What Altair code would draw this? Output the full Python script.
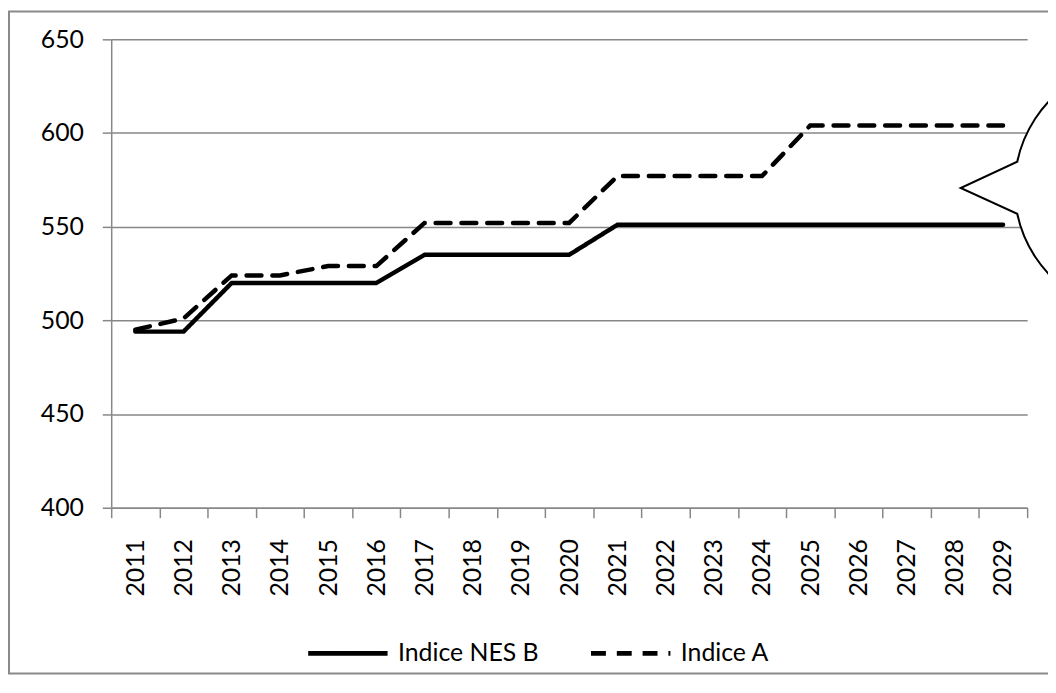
import altair as alt
import pandas as pd

# ---- data ----
years = [str(y) for y in range(2011, 2030)]
nes_b = [494, 494, 520, 520, 520, 520, 535, 535, 535, 535,
         551, 551, 551, 551, 551, 551, 551, 551, 551]
indice_a = [495, 501, 524, 524, 529, 529, 552, 552, 552, 552,
            577, 577, 577, 577, 604, 604, 604, 604, 604]
series_names = ["Indice NES B", "Indice A"]
y_ticks = [400, 450, 500, 550, 600, 650]
y_domain = [400, 650]

rows = []
for name, vals in zip(series_names, [nes_b, indice_a]):
    for yr, v in zip(years, vals):
        rows.append({"year": yr, "value": v, "series": name})
df = pd.DataFrame(rows)

FONT = "Lato"
GRID = "#878787"
BORDER = "#8a8a8a"

# speech-bubble callout shape (decoration), path relative to its centre
bubble_path = "M -124 -26 A 126.7 126.7 0 1 1 -124 26.5 L -181 0.5 Z"
one_row = alt.Data(values=[{"k": 1}])

# chart-area frame (left, top, bottom edges; right edge lies off-page)
frame_left = alt.Chart(one_row).mark_rule(stroke=BORDER, strokeWidth=2).encode(
    x=alt.value(-103), y=alt.value(-28), y2=alt.value(639))
frame_top = alt.Chart(one_row).mark_rule(stroke=BORDER, strokeWidth=2).encode(
    x=alt.value(-104), x2=alt.value(944), y=alt.value(-28))
frame_bottom = alt.Chart(one_row).mark_rule(stroke=BORDER, strokeWidth=2).encode(
    x=alt.value(-104), x2=alt.value(944), y=alt.value(639))

lines = alt.Chart(df).mark_line(
    color="black", strokeWidth=4.5, strokeCap="round"
).encode(
    x=alt.X("year:N", sort=years, title=None,
            scale=alt.Scale(type="band", paddingInner=0, paddingOuter=0),
            axis=alt.Axis(tickBand="extent", labelAngle=270, labelAlign="right",
                          labelBaseline="middle", tickSize=10, labelPadding=21,
                          grid=False, domainColor=GRID, tickColor=GRID,
                          domainWidth=1.5, tickWidth=1.5,
                          labelFont=FONT, labelFontSize=25, labelColor="black")),
    y=alt.Y("value:Q", title=None,
            scale=alt.Scale(domain=y_domain, nice=False, zero=False),
            axis=alt.Axis(values=y_ticks, tickSize=9, labelPadding=19,
                          grid=True, gridColor=GRID, gridWidth=1.5,
                          domainColor=GRID, tickColor=GRID,
                          domainWidth=1.5, tickWidth=1.5,
                          labelFont=FONT, labelFontSize=25, labelColor="black")),
    strokeDash=alt.StrokeDash("series:N",
                              scale=alt.Scale(domain=series_names, range=[[1, 0], [15, 11]]),
                              legend=alt.Legend(title=None, orient="none",
                                                direction="horizontal",
                                                legendX=196, legendY=576)),
    detail="series:N",
)

bubble = alt.Chart(one_row).mark_point(
    shape=bubble_path, size=4, filled=True, fill="white", stroke="black",
    strokeWidth=2, opacity=1, fillOpacity=1, strokeOpacity=1
).encode(x=alt.value(1037), y=alt.value(149.3))

chart = alt.layer(frame_left, frame_top, frame_bottom, lines, bubble).properties(
    width=923, height=472,
    autosize=alt.AutoSizeParams(type="none"),
    padding={"left": 104, "top": 29, "right": 21, "bottom": 169},
    background="white",
).configure_view(stroke=None).configure_legend(
    labelFont=FONT, labelFontSize=25, labelColor="black",
    symbolType="stroke", symbolSize=6400, symbolStrokeWidth=5,
    symbolStrokeColor="black", labelOffset=8, columnPadding=42, padding=0,
)

chart.save("out.html", embed_options={"renderer": "svg", "actions": False})
